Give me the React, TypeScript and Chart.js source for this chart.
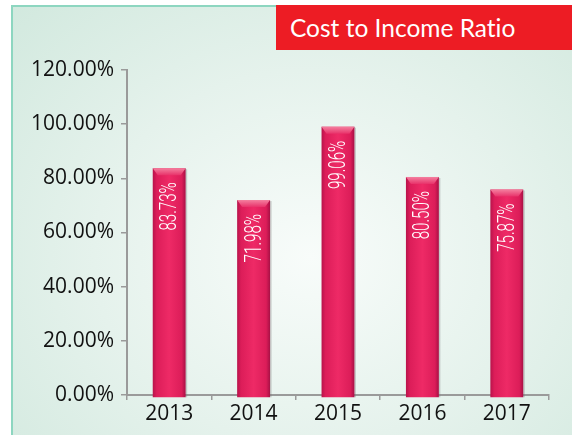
import React, { useEffect, useRef } from "react";
import { Chart, registerables } from "chart.js";

Chart.register(...registerables);

const categories = ["2013", "2014", "2015", "2016", "2017"];
const ratioValues = [83.73, 71.98, 99.06, 80.5, 75.87];
const yTickValues = [0, 20, 40, 60, 80, 100, 120];
const titleText = "Cost to Income Ratio";

const barPlugin = {
  id: "cylBars",
  afterDatasetsDraw(chart: any) {
    const ctx = chart.ctx;
    const meta = chart.getDatasetMeta(0);
    meta.data.forEach((bar: any, i: number) => {
      const { x, y, base, width } = bar.getProps(["x", "y", "base", "width"], true);
      const left = x - width / 2;
      const right = x + width / 2;
      const bottom = base + 3;
      ctx.save();
      ctx.fillStyle = "rgba(120,120,120,0.35)";
      ctx.fillRect(right, y + 1, 1.5, bottom - y - 1);
      const g = ctx.createLinearGradient(left, 0, right, 0);
      g.addColorStop(0, "#B8134B");
      g.addColorStop(0.12, "#DC1D59");
      g.addColorStop(0.5, "#EE2A66");
      g.addColorStop(0.88, "#DC1D59");
      g.addColorStop(1, "#A81045");
      ctx.fillStyle = g;
      ctx.fillRect(left, y, width, bottom - y);
      const cg = ctx.createLinearGradient(0, y, 0, y + 7);
      cg.addColorStop(0, "#F4809F");
      cg.addColorStop(1, "#E8326A");
      ctx.fillStyle = cg;
      ctx.beginPath();
      ctx.moveTo(left, y);
      ctx.lineTo(right, y);
      ctx.lineTo(right - 5, y + 7);
      ctx.lineTo(left + 5, y + 7);
      ctx.closePath();
      ctx.fill();
      const txt = ratioValues[i].toFixed(2) + "%";
      ctx.translate(x + 1, y + 14);
      ctx.rotate(-Math.PI / 2);
      ctx.scale(0.63, 1);
      ctx.font = "300 24px Roboto";
      ctx.fillStyle = "#FFFFFF";
      ctx.textAlign = "right";
      ctx.textBaseline = "middle";
      ctx.fillText(txt, 0, 0);
      ctx.restore();
    });
  },
};

export default function App() {
  const ref = useRef<HTMLCanvasElement | null>(null);
  useEffect(() => {
    if (!ref.current) return;
    const chart = new Chart(ref.current, {
      type: "bar",
      data: {
        labels: categories,
        datasets: [
          {
            data: ratioValues,
            backgroundColor: "rgba(0,0,0,0)",
            borderWidth: 0,
            barPercentage: 0.39,
            categoryPercentage: 1,
          },
        ],
      },
      options: {
        animation: false,
        responsive: false,
        layout: { padding: { top: 70, right: 23, left: 0, bottom: 0 } },
        plugins: { legend: { display: false }, tooltip: { enabled: false } },
        scales: {
          x: {
            offset: true,
            border: { display: true, color: "#9A9A9A", width: 2 },
            grid: {
              display: true,
              drawOnChartArea: false,
              drawTicks: true,
              tickLength: 5,
              color: "#9A9A9A",
              lineWidth: 1.5,
              offset: true,
            },
            ticks: {
              color: "#111111",
              font: { family: "Open Sans", size: 21 },
              padding: 1,
            },
            afterFit: (s: any) => {
              s.height = 40;
            },
          },
          y: {
            min: 0,
            max: 120,
            afterBuildTicks: (s: any) => {
              s.ticks = yTickValues.map((v) => ({ value: v }));
            },
            border: { display: true, color: "#9A9A9A", width: 2 },
            grid: {
              display: true,
              drawOnChartArea: false,
              drawTicks: true,
              tickLength: 6,
              color: "#9A9A9A",
              lineWidth: 1.5,
            },
            ticks: {
              color: "#111111",
              font: { family: "Open Sans", size: 21 },
              padding: 7,
              callback: (v: any) => Number(v).toFixed(2) + "%",
            },
            afterFit: (s: any) => {
              s.width = 127;
            },
          },
        },
      },
      plugins: [barPlugin],
    });
    return () => chart.destroy();
  }, []);

  return (
    <div
      style={{
        position: "fixed",
        left: 0,
        top: 0,
        width: 572,
        height: 435,
        overflow: "hidden",
        background: "#ffffff",
      }}
    >
      <div
        style={{
          position: "absolute",
          left: 11,
          top: 5,
          width: 620,
          height: 500,
          border: "2px solid #8DD6C0",
          background:
            "radial-gradient(ellipse 70% 75% at 48% 50%, #F8FCFA 0%, #E5F2EC 50%, #D0E8DD 100%)",
        }}
      />
      <div
        style={{
          position: "absolute",
          left: 276,
          top: 5,
          width: 296,
          height: 45,
          background: "#ED1C24",
          color: "#ffffff",
          fontFamily: "Lato",
          fontSize: 24.5,
          lineHeight: "45px",
          paddingLeft: 14,
          boxSizing: "border-box",
          whiteSpace: "nowrap",
          fontVariantLigatures: "none",
        }}
      >
        {titleText}
      </div>
      <canvas
        ref={ref}
        width={572}
        height={435}
        style={{ position: "absolute", left: 0, top: 0, width: 572, height: 435 }}
      />
    </div>
  );
}
